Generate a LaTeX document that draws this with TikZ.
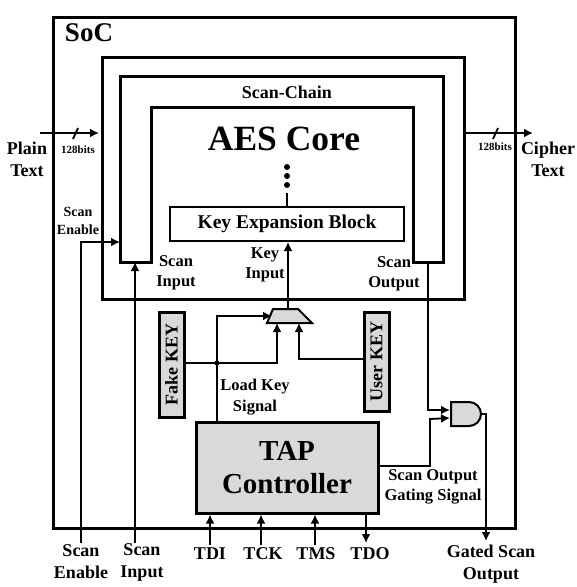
\documentclass[tikz,border=0pt]{standalone}
\usepackage{fontspec}
\setmainfont{Liberation Serif}
\usetikzlibrary{arrows.meta}
\usetikzlibrary{shapes.gates.logic.US}
\tikzset{
  blockbox/.style={draw=black,line width=3pt,inner sep=0pt},
  keybox/.style={blockbox,fill=gray!30,rotate=90,minimum height=25pt,font=\bfseries\fontsize{18}{18}\selectfont},
  lbl/.style={align=center,inner sep=0pt,font=\bfseries\fontsize{18}{22}\selectfont},
  midlbl/.style={align=center,inner sep=0pt,font=\bfseries\fontsize{16.5}{20.5}\selectfont},
  smalllbl/.style={align=center,inner sep=0pt,font=\bfseries\fontsize{14}{18}\selectfont},
  bitslbl/.style={inner sep=0pt,font=\bfseries\fontsize{11}{11}\selectfont},
  keydot/.style={circle,fill=black,inner sep=0pt,minimum size=6pt},
  sig/.style={line width=1.8pt},
}
\begin{document}
\begin{tikzpicture}[x=1pt,y=-1pt,>={Latex[length=9pt,width=9pt]}]
      \useasboundingbox (0,0) rectangle (577,587);

      % enclosing blocks
      \node[blockbox,minimum width=462pt,minimum height=511pt] (soc) at (284.5,273) {};
      \node[blockbox,minimum width=362pt,minimum height=242pt] (aes) at (283,178) {};
      \draw[line width=3pt,line join=miter]
        (120,262) -- (120,76) -- (443,76) -- (443,262) -- (413,262) -- (413,107) -- (151,107) -- (151,262) -- cycle;
      \coordinate (chainin) at (135,262);
      \coordinate (chainen) at (120,242);
      \coordinate (chainout) at (428,262);

      \node[font=\bfseries\fontsize{27}{27}\selectfont] (soclabel) at (89,33) {SoC};
      \node[inner sep=0pt,font=\bfseries\fontsize{18}{18}\selectfont] (chainlabel) at (287,92) {Scan-Chain};
      \node[font=\bfseries\fontsize{35.5}{35.5}\selectfont] (core) at (284,139) {AES Core};
      \node[blockbox,line width=2pt,minimum width=234pt,minimum height=34pt,font=\bfseries\fontsize{19.5}{19.5}\selectfont] (keyexp) at (287,224) {Key Expansion Block};
      \node[keydot] (dota) at (287,167) {};
      \node[keydot] (dotb) at (287,176) {};
      \node[keydot] (dotc) at (287,185) {};
      \coordinate (dotline) at (287,193);
      \path[sig] (dotline) edge (keyexp.north -| dotline);

      % key selection
      \node[keybox,minimum width=105pt] (fake) at (171.5,364.5) {Fake KEY};
      \node[keybox,minimum width=99pt] (user) at (376.5,361.5) {User KEY};
      \coordinate (muxout) at (288,309);
      \coordinate (muxa) at (277,323);
      \coordinate (muxb) at (299,323);
      \coordinate (muxs) at (272,316);
      \draw[line width=2pt,fill=gray!30,line join=miter] (273,309) -- (298,309) -- (312,323) -- (267,323) -- cycle;
      \node[blockbox,fill=gray!30,minimum width=182pt,minimum height=91pt,align=center,font=\bfseries\fontsize{29}{33}\selectfont] (tap) at (287,467.5) {TAP\\Controller};
      \node[and gate US,draw,line width=2pt,fill=gray!30,logic gate inputs=nn,minimum width=26pt,minimum height=21pt,inner sep=0pt] (gate) at (465,414) {};

      \coordinate (loadtap) at (217,422);
      \coordinate (loadjoin) at (217,363);

      \draw[->,sig] (muxout) -- (muxout |- keyexp.south);
      \draw[->,sig] (fake.south |- loadjoin) -- (muxa |- loadjoin) -- (muxa);
      \draw[->,sig] (user.north |- 0,359) -- (muxb |- 0,359) -- (muxb);
      \draw[->,sig] (loadtap) -- (loadjoin |- muxs) -- (muxs);
      \node[circle,fill=black,inner sep=0pt,minimum size=5pt] (loaddot) at (loadjoin) {};

      % outputs towards the gate
      \draw[->,sig] (chainout) |- (gate.input 1);
      \draw[->,sig] (tap.east |- 0,466) -| (430,419) -- (gate.input 2);
      \coordinate (gatedout) at (486,541);
      \draw[->,sig] (gate.output) -| (gatedout);

      % data path
      \coordinate (plainin) at (40,133);
      \coordinate (plainend) at (99,133);
      \coordinate (cipherin) at (464,133);
      \coordinate (cipherend) at (533,133);
      \draw[->,sig] (plainin) -- (plainend);
      \draw[->,sig] (cipherin) -- (cipherend);
      \draw[sig] (73,139) -- (78,128);
      \draw[sig] (493,139) -- (498,128);
      \node[bitslbl] (plainbits) at (78,150) {128bits};
      \node[bitslbl] (cipherbits) at (495,147) {128bits};
      \node[lbl] (plain) at (27,159) {Plain\\Text};
      \node[lbl] (cipher) at (548,159) {Cipher\\Text};

      % scan pins
      \coordinate (enpin) at (81,543);
      \coordinate (inpin) at (135,543);
      \draw[->,sig] (enpin) |- (chainen);
      \draw[->,sig] (inpin) -- (chainin);
      \node[smalllbl] (enlabel) at (78,221) {Scan\\Enable};
      \node[midlbl] (inlabel) at (176,273) {Scan\\Input};
      \node[midlbl] (keylabel) at (265,265) {Key\\Input};
      \node[midlbl] (outlabel) at (394,274) {Scan\\Output};
      \node[midlbl] (loadlabel) at (255,397) {Load Key\\Signal};
      \node[midlbl] (gatinglabel) at (433,487) {Scan Output\\Gating Signal};

      % TAP pins
      \coordinate (tdi) at (210,545);
      \coordinate (tck) at (261,545);
      \coordinate (tms) at (315,545);
      \coordinate (tdo) at (366,543);
      \path[->,sig] (tdi) edge (tap.south -| tdi);
      \path[->,sig] (tck) edge (tap.south -| tck);
      \path[->,sig] (tms) edge (tap.south -| tms);
      \path[->,sig] (tap.south -| tdo) edge (tdo);
      \node[lbl] (tdilabel) at (210,554) {TDI};
      \node[lbl] (tcklabel) at (263,554) {TCK};
      \node[lbl] (tmslabel) at (316,554) {TMS};
      \node[lbl] (tdolabel) at (370,554) {TDO};
      \node[lbl] (enpinlabel) at (81,562) {Scan\\Enable};
      \node[lbl] (inpinlabel) at (142,562) {Scan\\Input};
      \node[lbl] (gatedlabel) at (491,564) {Gated Scan\\Output};
\end{tikzpicture}
\end{document}
